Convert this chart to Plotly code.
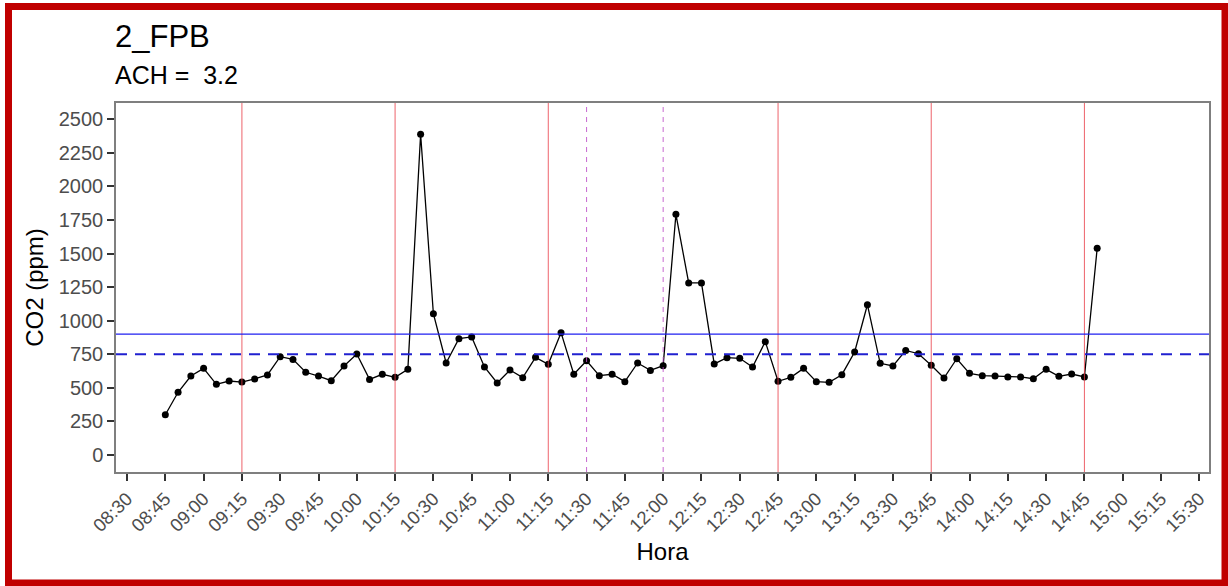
import pandas as pd
import plotly.graph_objects as go

# CO2 readings every 5 minutes
times = ["08:45", "08:50", "08:55", "09:00", "09:05", "09:10", "09:15", "09:20", "09:25", "09:30",
         "09:35", "09:40", "09:45", "09:50", "09:55", "10:00", "10:05", "10:10", "10:15", "10:20",
         "10:25", "10:30", "10:35", "10:40", "10:45", "10:50", "10:55", "11:00", "11:05", "11:10",
         "11:15", "11:20", "11:25", "11:30", "11:35", "11:40", "11:45", "11:50", "11:55", "12:00",
         "12:05", "12:10", "12:15", "12:20", "12:25", "12:30", "12:35", "12:40", "12:45", "12:50",
         "12:55", "13:00", "13:05", "13:10", "13:15", "13:20", "13:25", "13:30", "13:35", "13:40",
         "13:45", "13:50", "13:55", "14:00", "14:05", "14:10", "14:15", "14:20", "14:25", "14:30",
         "14:35", "14:40", "14:45", "14:50"]
co2 = [300, 467, 588, 645, 526, 551, 543, 566, 596, 732,
       712, 616, 588, 553, 663, 752, 563, 601, 578, 638,
       2388, 1052, 685, 866, 879, 655, 536, 633, 576, 727,
       675, 911, 601, 702, 591, 601, 546, 685, 630, 665,
       1792, 1281, 1281, 678, 725, 720, 655, 844, 549, 578,
       645, 546, 541, 598, 767, 1119, 683, 663, 779, 754,
       668, 573, 717, 608, 591, 588, 581, 581, 568, 638,
       586, 603, 581, 1539]

# reference marks
class_breaks = ["09:15", "10:15", "11:15", "12:45", "13:45", "14:45"]
recess = ["11:30", "12:00"]
limit_solid = 900
limit_dashed = 750
y_ticks = [0, 250, 500, 750, 1000, 1250, 1500, 1750, 2000, 2250, 2500]

title = "2_FPB"
subtitle = "ACH =  3.2"

DAY = "2024-03-01 "


def ts(hhmm):
    return pd.Timestamp(DAY + hhmm)


x = [ts(t) for t in times]

fig = go.Figure()
fig.add_trace(go.Scatter(
    x=x, y=co2, mode="lines+markers",
    line=dict(color="black", width=1.3),
    marker=dict(color="black", size=7),
    showlegend=False, hoverinfo="x+y",
))

shapes = []
for t in class_breaks:
    shapes.append(dict(type="line", xref="x", yref="paper", x0=ts(t), x1=ts(t), y0=0, y1=1,
                       line=dict(color="rgba(232,60,70,0.8)", width=1)))
for t in recess:
    shapes.append(dict(type="line", xref="x", yref="paper", x0=ts(t), x1=ts(t), y0=0, y1=1,
                       line=dict(color="rgba(190,80,200,0.85)", width=1, dash="5px,5px")))
shapes.append(dict(type="line", xref="paper", yref="y", x0=0, x1=1, y0=limit_solid, y1=limit_solid,
                   line=dict(color="#2020F0", width=1.2)))
shapes.append(dict(type="line", xref="paper", yref="y", x0=0, x1=1, y0=limit_dashed, y1=limit_dashed,
                   line=dict(color="#2020D0", width=2.2, dash="11px,8px")))

# outer frame around the figure
W, H = 1228, 586
L, R, T, B = 116, 19, 103, 114
pw, ph = W - L - R, H - T - B


def px_x(p):
    return (p - L) / pw


def px_y(p):
    return (H - B - p) / ph


shapes.append(dict(type="rect", xref="paper", yref="paper",
                   x0=px_x(8.5), x1=px_x(1225), y0=px_y(583), y1=px_y(6.5),
                   line=dict(color="#C00000", width=7), fillcolor="rgba(0,0,0,0)"))

font_family = "Liberation Sans, Arial, Helvetica, sans-serif"

fig.update_layout(
    width=W, height=H,
    margin=dict(l=L, r=R, t=T, b=B),
    paper_bgcolor="white", plot_bgcolor="white",
    font=dict(family=font_family, color="black"),
    shapes=shapes,
    showlegend=False,
    annotations=[
        dict(text=title, xref="paper", yref="paper", x=px_x(113), y=px_y(36),
             xanchor="left", yanchor="middle", showarrow=False,
             font=dict(size=31, color="black", family=font_family)),
        dict(text=subtitle, xref="paper", yref="paper", x=px_x(113), y=px_y(75),
             xanchor="left", yanchor="middle", showarrow=False,
             font=dict(size=25, color="black", family=font_family)),
    ],
)

fig.update_xaxes(
    type="date",
    range=[pd.Timestamp(DAY + "08:25:41"), pd.Timestamp(DAY + "15:33:48")],
    tick0=ts("08:30"), dtick=15 * 60 * 1000, tickformat="%H:%M",
    tickangle=-45, ticks="outside", ticklen=7, tickwidth=1.5, tickcolor="#333333",
    tickfont=dict(size=18.5, color="#4D4D4D"),
    showgrid=False, zeroline=False,
    showline=True, linecolor="#7F7F7F", linewidth=1.5, mirror=True,
    title=dict(text="Hora", font=dict(size=24, color="black"), standoff=8),
)
fig.update_yaxes(
    range=[-126.6, 2621],
    tickvals=y_ticks, ticks="outside", ticklen=7, tickwidth=1.5, tickcolor="#333333",
    tickfont=dict(size=20, color="#4D4D4D"),
    showgrid=False, zeroline=False,
    showline=True, linecolor="#7F7F7F", linewidth=1.5, mirror=True,
    title=dict(text="CO2 (ppm)", font=dict(size=24, color="black"), standoff=8),
)

fig.write_html("out.html")
